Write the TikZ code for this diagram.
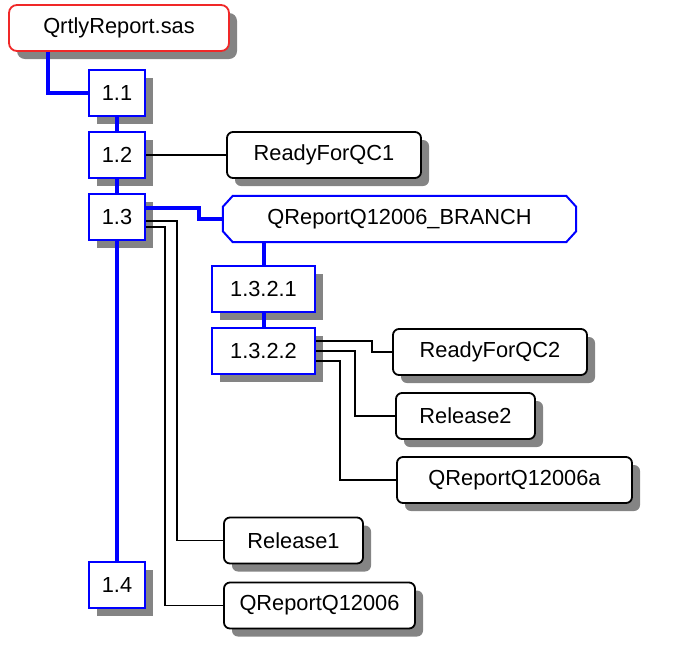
\documentclass[tikz,border=0pt]{standalone}
\usepackage{fontspec}
\setmainfont{Liberation Sans}
\usetikzlibrary{shadows,calc,backgrounds}
\definecolor{vblue}{RGB}{0,0,255}
\definecolor{shgray}{RGB}{132,132,132}
\definecolor{fred}{RGB}{240,40,40}
\begin{document}
\begin{tikzpicture}[x=1pt,y=-1pt,
  shd/.style={drop shadow={shadow xshift=8pt,shadow yshift=-8pt,fill=shgray,opacity=1}},
  base/.style={inner sep=0pt,minimum height=46pt,fill=white,font=\fontsize{21.8}{26}\selectfont,text=black},
  ver/.style={base,shd,draw=vblue,line width=2pt,minimum width=56pt},
  tagbox/.style={base,shd,draw=black,line width=1.8pt,rounded corners=6pt},
  filebox/.style={base,shd,draw=fred,line width=1.8pt,rounded corners=8pt},
  brbox/.style={inner sep=0pt,minimum height=46pt,minimum width=353pt,font=\fontsize{21.8}{26}\selectfont},
  bl/.style={draw=vblue,line width=4pt},
  lk/.style={draw=black,line width=1.8pt}]
\useasboundingbox (0,0) rectangle (687,649);

% nodes
\node[filebox,minimum width=220pt] (qr) at (119,28) {QrtlyReport.sas};
\node[ver] (v11) at (117,93) {1.1};
\node[ver] (v12) at (117,155) {1.2};
\node[ver] (v13) at (117,217) {1.3};
\node[ver] (v14) at (117,585) {1.4};
\node[tagbox,minimum width=194pt] (rq1) at (324,155) {ReadyForQC1};
\node[brbox] (br) at (399.5,219) {QReportQ12006\_BRANCH};
\node[ver,minimum width=103pt] (v1321) at (263.5,289) {1.3.2.1};
\node[ver,minimum width=103pt] (v1322) at (263.5,351) {1.3.2.2};
\node[tagbox,minimum width=194pt] (rq2) at (490,352) {ReadyForQC2};
\node[tagbox,minimum width=139pt] (rel2) at (465.5,416) {Release2};
\node[tagbox,minimum width=235pt] (qa) at (514.5,480) {QReportQ12006a};
\node[tagbox,minimum width=139pt] (rel1) at (293.5,540.5) {Release1};
\node[tagbox,minimum width=191pt] (q06) at (319.5,605.5) {QReportQ12006};

% branch outline (chamfered)
\begin{scope}[on background layer]
  \fill[shgray,shift={(8,8)}]
    ([xshift=10pt]br.north west) -- ([xshift=-10pt]br.north east) --
    ([yshift=-11pt]br.north east) -- ([yshift=11pt]br.south east) --
    ([xshift=-10pt]br.south east) -- ([xshift=10pt]br.south west) --
    ([yshift=11pt]br.south west) -- ([yshift=-11pt]br.north west) -- cycle;
  \filldraw[fill=white,draw=vblue,line width=2pt]
    ([xshift=10pt]br.north west) -- ([xshift=-10pt]br.north east) --
    ([yshift=-11pt]br.north east) -- ([yshift=11pt]br.south east) --
    ([xshift=-10pt]br.south east) -- ([xshift=10pt]br.south west) --
    ([yshift=11pt]br.south west) -- ([yshift=-11pt]br.north west) -- cycle;
\end{scope}

% blue connectors
\draw[bl] ([xshift=40pt]qr.south west) |- (v11.west);
\draw[bl] (v11.south) -- (v12.north);
\draw[bl] (v12.south) -- (v13.north);
\draw[bl] (v13.south) -- (v14.north);
\draw[bl] ([yshift=9pt]v13.east) -- ++(53,0) |- (br.west);
\draw[bl] (v1321.north) -- (v1321.north |- br.south);
\draw[bl] (v1321.south) -- (v1322.north);

% black connectors
\draw[lk] (v12.east) -- (rq1.west);
\draw[lk] ([yshift=-4pt]v13.east) -- ++(31,0) |- (rel1.west);
\draw[lk] ([yshift=-10pt]v13.east) -- ++(19,0) |- (q06.west);
\draw[lk] ([yshift=10pt]v1322.east) -- ++(56,0) |- (rq2.west);
\draw[lk] (v1322.east) -- ++(39,0) |- (rel2.west);
\draw[lk] ([yshift=-10pt]v1322.east) -- ++(24,0) |- (qa.west);
\end{tikzpicture}
\end{document}
